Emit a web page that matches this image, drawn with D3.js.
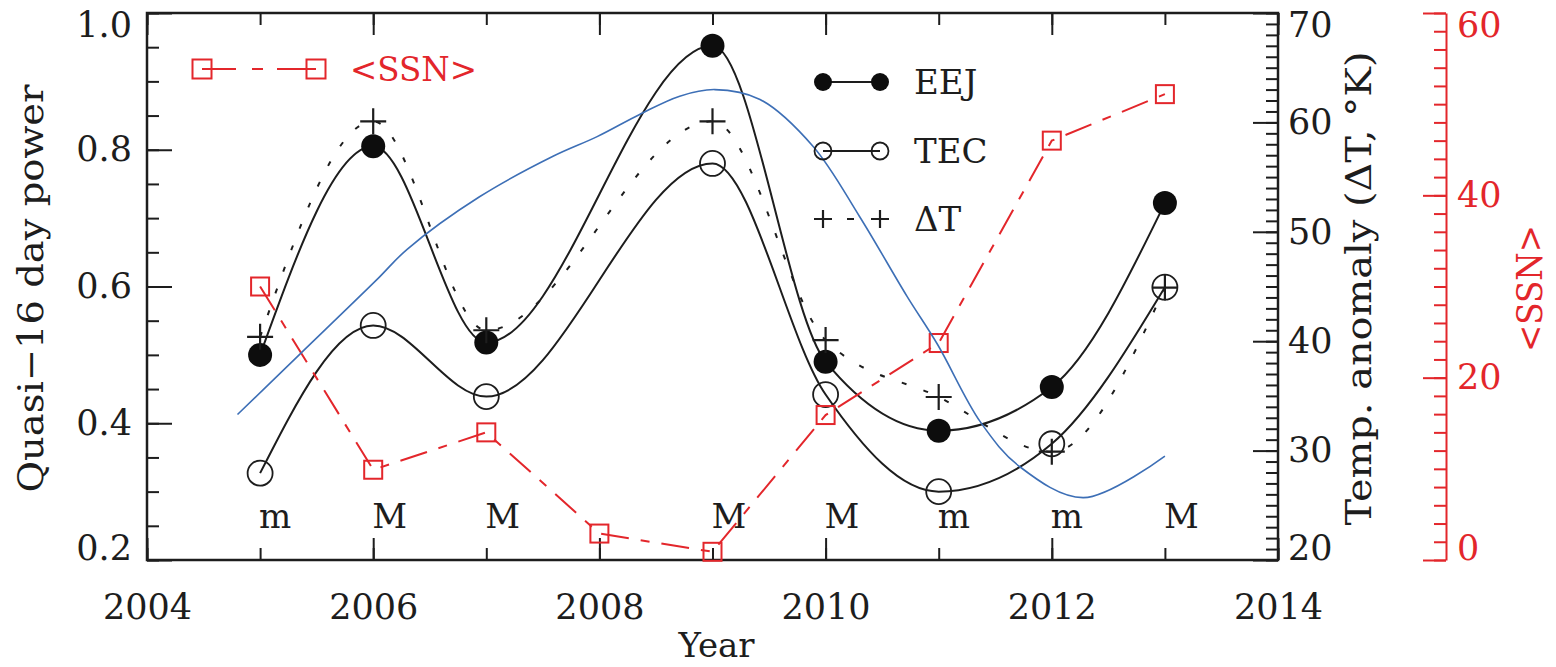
<!DOCTYPE html>
<html>
<head>
<meta charset="utf-8">
<script src="https://cdn.jsdelivr.net/npm/d3@7"></script>
<style>
  body { margin: 0; background: #fff; }
  svg text { font-family: "DejaVu Serif", serif; }
</style>
</head>
<body>
<div id="chart"></div>
<script>
(function () {
  "use strict";

  // values
  const years = [2005, 2006, 2007, 2009, 2010, 2011, 2012, 2013];
  const eejPower = [0.5, 0.805, 0.518, 0.952, 0.49, 0.389, 0.453, 0.722];
  const tecPower = [0.327, 0.543, 0.439, 0.78, 0.442, 0.3, 0.37, 0.599];
  const deltaT = [40.4, 60.1, 41.0, 60.1, 40.1, 34.9, 29.9, 44.9];
  const phaseLabels = ["m", "M", "M", "M", "M", "m", "m", "M"];

  const ssnYears = [2005, 2006, 2007, 2008, 2009, 2010, 2011, 2012, 2013];
  const ssnValues = [30.0, 9.9, 14.0, 2.9, 0.9, 15.9, 23.8, 46.0, 51.1];

  // blue curve, read against the temperature axis
  const fitYears = [2004.8, 2005.35, 2006.03, 2006.3, 2006.94, 2007.59, 2007.98, 2008.36,
    2008.71, 2009.02, 2009.42, 2009.89, 2010.3, 2010.72, 2010.99, 2011.37, 2011.72, 2012.28, 2013.0];
  const fitTemp = [33.3, 38.8, 45.6, 48.4, 53.2, 56.9, 58.7, 60.75,
    62.4, 63.0, 62.1, 57.8, 51.4, 44.1, 39.7, 32.6, 28.5, 25.7, 29.5];

  const yearTicks = [2004, 2006, 2008, 2010, 2012, 2014];
  const powerTicks = [0.2, 0.4, 0.6, 0.8, 1.0];
  const tempTicks = [20, 30, 40, 50, 60, 70];
  const ssnTicks = [0, 20, 40, 60];

  const red = "#e3262b";
  const blue = "#3d6fb6";
  const ink = "#1d1d1d";
  const fontSize = 35;

  const width = 1556, height = 667;
  const left = 147, right = 1278, top = 13, bottom = 560;
  const ssnAxisX = 1446;

  const x = d3.scaleLinear().domain([2004, 2014]).range([left, right]);
  const yPow = d3.scaleLinear().domain([0.2, 1.0]).range([bottom, top]);
  const yTemp = d3.scaleLinear().domain([20, 70]).range([bottom, top]);
  const ySsn = d3.scaleLinear().domain([0, 60]).range([bottom, top]);

  const svg = d3.select("#chart").append("svg")
    .attr("width", width)
    .attr("height", height);

  function styleAxis(g, color) {
    g.attr("font-family", '"DejaVu Serif", serif')
      .attr("font-size", fontSize)
      .attr("color", color);
    g.select(".domain").remove();
    g.selectAll("line").attr("stroke-width", 2);
  }

  // push the end labels inside the axis range
  function nudgeEnds(g, lo, hi) {
    g.selectAll(".tick text")
      .attr("dy", (d) => (d === hi ? "0.66em" : d === lo ? "-0.02em" : "0.32em"));
  }

  // bottom / top year axes
  svg.append("g").attr("transform", `translate(0,${bottom})`)
    .call(d3.axisBottom(x).tickValues(d3.range(2004, 2015)).tickSize(-12).tickFormat(""))
    .call(styleAxis, ink);
  svg.append("g").attr("transform", `translate(0,${bottom})`)
    .call(d3.axisBottom(x).tickValues(yearTicks).tickSize(-22).tickPadding(34).tickFormat(d3.format("d")))
    .call(styleAxis, ink);
  svg.append("g").attr("transform", `translate(0,${top})`)
    .call(d3.axisTop(x).tickValues(d3.range(2004, 2015)).tickSize(-12).tickFormat(""))
    .call(styleAxis, ink);
  svg.append("g").attr("transform", `translate(0,${top})`)
    .call(d3.axisTop(x).tickValues(yearTicks).tickSize(-22).tickFormat(""))
    .call(styleAxis, ink);

  // left power axis
  svg.append("g").attr("transform", `translate(${left},0)`)
    .call(d3.axisLeft(yPow).tickValues(d3.range(0.2, 1.001, 0.05)).tickSize(-12).tickFormat(""))
    .call(styleAxis, ink);
  svg.append("g").attr("transform", `translate(${left},0)`)
    .call(d3.axisLeft(yPow).tickValues(powerTicks).tickSize(-25).tickPadding(15).tickFormat(d3.format(".1f")))
    .call(styleAxis, ink)
    .call(nudgeEnds, 0.2, 1.0);

  // right temperature axis
  svg.append("g").attr("transform", `translate(${right},0)`)
    .call(d3.axisRight(yTemp).tickValues(d3.range(20, 71, 1)).tickSize(-12).tickFormat(""))
    .call(styleAxis, ink);
  svg.append("g").attr("transform", `translate(${right},0)`)
    .call(d3.axisRight(yTemp).tickValues(tempTicks).tickSize(-25).tickPadding(10).tickFormat(d3.format("d")))
    .call(styleAxis, ink)
    .call(nudgeEnds, 20, 70);

  // red SSN axis
  svg.append("g").attr("transform", `translate(${ssnAxisX},0)`)
    .call(d3.axisRight(ySsn).tickValues(d3.range(0, 61, 2)).tickSize(-12).tickFormat(""))
    .call(styleAxis, red);
  const ssnAxis = svg.append("g").attr("transform", `translate(${ssnAxisX},0)`)
    .call(d3.axisRight(ySsn).tickValues(ssnTicks).tickSize(-23).tickSizeOuter(0).tickPadding(11).tickFormat(d3.format("d")))
    .attr("font-family", '"DejaVu Serif", serif')
    .attr("font-size", fontSize)
    .attr("color", red)
    .call(nudgeEnds, 0, 60);
  ssnAxis.selectAll("line, .domain").attr("stroke-width", 2);

  // frame
  svg.append("rect")
    .attr("x", left).attr("y", top)
    .attr("width", right - left).attr("height", bottom - top)
    .attr("fill", "none").attr("stroke", ink).attr("stroke-width", 2.5);

  // axis titles
  svg.append("text")
    .attr("transform", `translate(43,${(top + bottom) / 2 + 2}) rotate(-90)`)
    .attr("text-anchor", "middle").attr("font-size", 36).attr("fill", ink)
    .attr("textLength", 408).attr("lengthAdjust", "spacingAndGlyphs")
    .text("Quasi\u221216 day power");
  svg.append("text")
    .attr("transform", `translate(1371,${(top + bottom) / 2 + 2}) rotate(-90)`)
    .attr("text-anchor", "middle").attr("font-size", 36).attr("fill", ink)
    .attr("textLength", 474).attr("lengthAdjust", "spacingAndGlyphs")
    .text("Temp. anomaly (\u0394T, \u00b0K)");
  svg.append("text")
    .attr("transform", `translate(1542,${(top + bottom) / 2 + 2}) rotate(-90)`)
    .attr("text-anchor", "middle").attr("font-size", 36).attr("fill", red)
    .attr("textLength", 127).attr("lengthAdjust", "spacingAndGlyphs")
    .text("<SSN>");
  svg.append("text")
    .attr("x", (left + right) / 2 + 4).attr("y", 657)
    .attr("text-anchor", "middle").attr("font-size", 34).attr("fill", ink)
    .text("Year");

  const points = years.map((yr, i) => ({
    year: yr, eej: eejPower[i], tec: tecPower[i], dt: deltaT[i], phase: phaseLabels[i]
  }));
  const ssn = ssnYears.map((yr, i) => ({ year: yr, v: ssnValues[i] }));
  const fit = fitYears.map((yr, i) => ({ year: yr, v: fitTemp[i] }));

  const plot = svg.append("g");
  const smooth = d3.curveMonotoneX;

  // curves
  plot.append("path").datum(points)
    .attr("d", d3.line().x((d) => x(d.year)).y((d) => yTemp(d.dt)).curve(smooth))
    .attr("fill", "none").attr("stroke", ink).attr("stroke-width", 2)
    .attr("stroke-dasharray", "5,18");
  plot.append("path").datum(points)
    .attr("d", d3.line().x((d) => x(d.year)).y((d) => yPow(d.eej)).curve(smooth))
    .attr("fill", "none").attr("stroke", ink).attr("stroke-width", 2);
  plot.append("path").datum(points)
    .attr("d", d3.line().x((d) => x(d.year)).y((d) => yPow(d.tec)).curve(smooth))
    .attr("fill", "none").attr("stroke", ink).attr("stroke-width", 2);
  plot.append("path").datum(ssn)
    .attr("d", d3.line().x((d) => x(d.year)).y((d) => ySsn(d.v)))
    .attr("fill", "none").attr("stroke", red).attr("stroke-width", 2)
    .attr("stroke-dasharray", "28,12,9,12");

  // markers
  plot.selectAll(".eej").data(points).join("circle")
    .attr("class", "eej")
    .attr("cx", (d) => x(d.year)).attr("cy", (d) => yPow(d.eej))
    .attr("r", 12).attr("fill", "#0d0d0d");
  plot.selectAll(".tec").data(points).join("circle")
    .attr("class", "tec")
    .attr("cx", (d) => x(d.year)).attr("cy", (d) => yPow(d.tec))
    .attr("r", 12.5).attr("fill", "none").attr("stroke", ink).attr("stroke-width", 1.8);
  plot.selectAll(".dt").data(points).join("path")
    .attr("class", "dt")
    .attr("transform", (d) => `translate(${x(d.year)},${yTemp(d.dt)})`)
    .attr("d", "M-13,0H13M0,-13V13")
    .attr("stroke", ink).attr("stroke-width", 2.2);
  plot.selectAll(".ssn").data(ssn).join("rect")
    .attr("class", "ssn")
    .attr("x", (d) => x(d.year) - 9).attr("y", (d) => ySsn(d.v) - 9)
    .attr("width", 18).attr("height", 18)
    .attr("fill", "none").attr("stroke", red).attr("stroke-width", 2);

  // m / M labels
  plot.selectAll(".phase").data(points).join("text")
    .attr("class", "phase")
    .attr("x", (d) => x(d.year) - 1).attr("y", 528)
    .attr("font-size", 34).attr("fill", ink)
    .text((d) => d.phase);

  // blue curve on top
  plot.append("path").datum(fit)
    .attr("d", d3.line().x((d) => x(d.year)).y((d) => yTemp(d.v)).curve(d3.curveCatmullRom.alpha(0.5)))
    .attr("fill", "none").attr("stroke", blue).attr("stroke-width", 1.6);

  // legends
  const legend = svg.append("g");
  legend.append("line").attr("x1", 823).attr("x2", 880).attr("y1", 82).attr("y2", 82)
    .attr("stroke", ink).attr("stroke-width", 2);
  legend.selectAll(".le").data([823, 880]).join("circle")
    .attr("cx", (d) => d).attr("cy", 82).attr("r", 9).attr("fill", "#0d0d0d");
  legend.append("line").attr("x1", 823).attr("x2", 880).attr("y1", 151).attr("y2", 151)
    .attr("stroke", ink).attr("stroke-width", 2);
  legend.selectAll(".lt").data([823, 880]).join("circle")
    .attr("cx", (d) => d).attr("cy", 151).attr("r", 8.5)
    .attr("fill", "none").attr("stroke", ink).attr("stroke-width", 1.8);
  legend.selectAll(".ld").data([823, 880]).join("path")
    .attr("transform", (d) => `translate(${d},219)`)
    .attr("d", "M-9,0H9M0,-9V9")
    .attr("stroke", ink).attr("stroke-width", 2.2);
  legend.append("line").attr("x1", 847).attr("x2", 854).attr("y1", 219).attr("y2", 219)
    .attr("stroke", ink).attr("stroke-width", 2);
  legend.selectAll(".ltx").data([["EEJ", 94], ["TEC", 163], ["\u0394T", 231]]).join("text")
    .attr("x", 914).attr("y", (d) => d[1])
    .attr("font-size", 34).attr("fill", ink)
    .text((d) => d[0]);

  legend.append("line").attr("x1", 202).attr("x2", 316).attr("y1", 69).attr("y2", 69)
    .attr("stroke", red).attr("stroke-width", 2)
    .attr("stroke-dasharray", "34,16,11,14,60");
  legend.selectAll(".ls").data([202, 316]).join("rect")
    .attr("x", (d) => d - 9.5).attr("y", 59.5).attr("width", 19).attr("height", 19)
    .attr("fill", "none").attr("stroke", red).attr("stroke-width", 2);
  legend.append("text")
    .attr("x", 350).attr("y", 81)
    .attr("font-size", 34).attr("fill", red)
    .attr("textLength", 127).attr("lengthAdjust", "spacingAndGlyphs")
    .text("<SSN>");
})();
</script>
</body>
</html>
